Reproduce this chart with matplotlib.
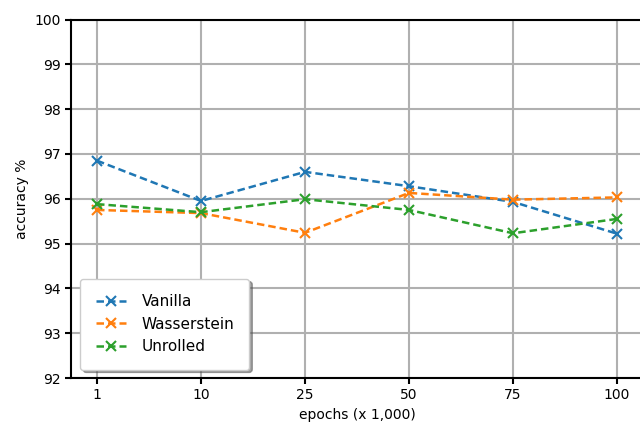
import matplotlib
matplotlib.use("Agg")
import matplotlib.pyplot as plt
import numpy as np

# epochs (x 1,000)
epochs = ["1", "10", "25", "50", "75", "100"]
vanilla = [96.85, 95.95, 96.60, 96.28, 95.93, 95.22]
wasserstein = [95.75, 95.68, 95.24, 96.13, 95.98, 96.03]
unrolled = [95.88, 95.70, 95.99, 95.75, 95.23, 95.55]

fig = plt.figure(figsize=(6.4, 4.26), dpi=100)
ax = fig.add_axes([71 / 640, 1 - 378 / 426, 572 / 640, 358.5 / 426])

x = np.arange(len(epochs))
for vals, name in [(vanilla, "Vanilla"), (wasserstein, "Wasserstein"), (unrolled, "Unrolled")]:
    ax.plot(x, vals, "x--", label=name, markersize=7, linewidth=1.8,
            markeredgewidth=1.5, dashes=(3.0, 1.6))

ax.set_xticks(x)
ax.set_xticklabels(epochs)
ax.set_xlim(-0.25, 5.25)
ax.set_ylim(92, 100)
ax.set_yticks(np.arange(92, 101, 1))
ax.set_xlabel("epochs (x 1,000)")
ax.set_ylabel("accuracy %")
ax.grid(True, color="#b0b0b0", linewidth=1.5)
ax.set_axisbelow(True)
for s in ax.spines.values():
    s.set_linewidth(1.5)
    s.set_color("black")
ax.tick_params(width=1.5, length=4)

leg = ax.legend(loc="lower left", shadow=True, fancybox=True, borderpad=1.0,
                fontsize=11, handlelength=2.0, handletextpad=1.0,
                bbox_to_anchor=(0.003, 0.002))
leg.get_frame().set_boxstyle("round,pad=0,rounding_size=0.2")

fig.savefig("out.png", dpi=100)
